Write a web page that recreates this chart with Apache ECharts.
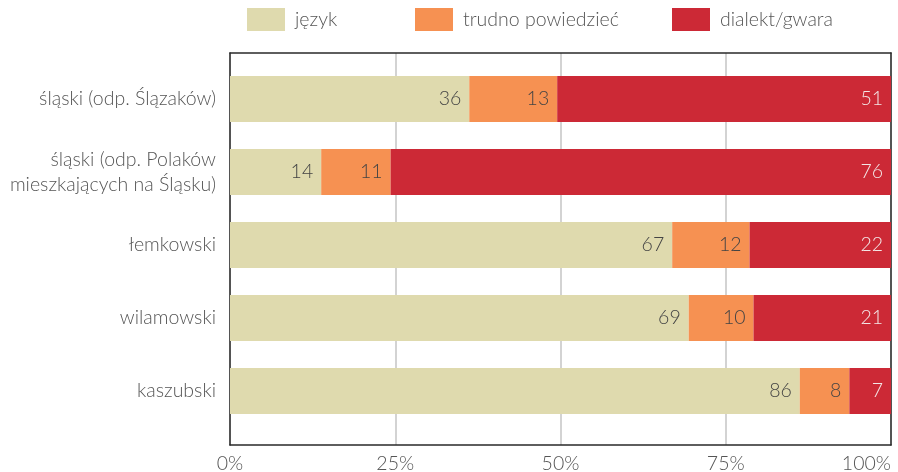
<!DOCTYPE html>
<html><head><meta charset="utf-8">
<script src="https://cdn.jsdelivr.net/npm/echarts@6/dist/echarts.min.js"></script>
<style>html,body{margin:0;padding:0;background:#fff}#c{width:898px;height:472px}</style>
</head><body><div id="c"></div>
<script>
const categories = ["śląski (odp. Ślązaków)", "śląski (odp. Polaków\nmieszkających na Śląsku)", "łemkowski", "wilamowski", "kaszubski"];
const seriesNames = ["język", "trudno powiedzieć", "dialekt/gwara"];
const jezyk = [36.2, 13.8, 66.9, 69.4, 86.2];
const trudno = [13.3, 10.5, 11.7, 9.8, 7.5];
const dialekt = [50.5, 75.7, 21.5, 20.8, 6.5];
const xTicks = [0, 25, 50, 75, 100];
const colors = ["#dfdaae", "#f69152", "#cc2936"];
const labelColors = ["#444", "#444", "#f3e6e6"];

const FONT = "Lato";
const FW = 300;
const FS = 19.5;
const valueSets = [jezyk, trudno, dialekt];
const series = seriesNames.map((n, i) => ({
  name: n, type: "bar", stack: "s", xAxisIndex: 2, yAxisIndex: 2,
  barWidth: 46, clip: true, z: 3,
  itemStyle: { color: colors[i] },
  label: { show: true, position: "insideRight", distance: 8, color: labelColors[i],
    fontFamily: FONT, fontWeight: FW, fontSize: FS, formatter: p => Math.round(p.value) },
  data: valueSets[i]
}));
series.push({ type: "bar", xAxisIndex: 0, yAxisIndex: 0, data: [], silent: true });

const frameLine = { show: true, onZero: false, lineStyle: { color: "#2a2a2a", width: 1.5 } };
const legendLefts = [247, 415, 672];
const chart = echarts.init(document.getElementById("c"), null, { renderer: "canvas" });
chart.setOption({
  animation: false,
  legend: seriesNames.map((n, i) => ({
    data: [n], left: legendLefts[i], top: 8, itemWidth: 38, itemHeight: 23,
    icon: "rect", selectedMode: false, padding: 0, itemGap: 0,
    textStyle: { fontFamily: FONT, fontWeight: FW, fontSize: FS, color: "#555", padding: [0, 0, 0, 5] }
  })),
  grid: [
    { left: 230, right: 7, top: 53, bottom: 27, containLabel: false, outerBoundsMode: "none" },
    { left: 230, right: 7, top: 62.5, bottom: 44.5, containLabel: false, outerBoundsMode: "none" }
  ],
  xAxis: [
    { type: "value", gridIndex: 0, position: "bottom", min: 0, max: 100, interval: 25,
      axisLine: frameLine, axisTick: { show: false },
      splitLine: { show: true, lineStyle: { color: "#c4c4c4", width: 1.5 } },
      axisLabel: { margin: 9, fontFamily: FONT, fontWeight: FW, fontSize: FS, color: "#555",
        alignMaxLabel: "right", formatter: v => xTicks.includes(v) ? v + "%" : "" } },
    { type: "value", gridIndex: 0, position: "top", min: 0, max: 100,
      axisLine: frameLine, axisTick: { show: false }, axisLabel: { show: false }, splitLine: { show: false } },
    { type: "value", gridIndex: 1, min: 0, max: 100, show: false }
  ],
  yAxis: [
    { type: "value", gridIndex: 0, position: "left", min: 0, max: 1,
      axisLine: frameLine, axisTick: { show: false }, axisLabel: { show: false }, splitLine: { show: false } },
    { type: "value", gridIndex: 0, position: "right", min: 0, max: 1,
      axisLine: frameLine, axisTick: { show: false }, axisLabel: { show: false }, splitLine: { show: false } },
    { type: "category", gridIndex: 1, data: categories, inverse: true,
      axisLine: { show: false }, axisTick: { show: false },
      axisLabel: { margin: 14, fontFamily: FONT, fontWeight: FW, fontSize: FS, color: "#555", lineHeight: 25, align: "right" } }
  ],
  series: series
});
</script></body></html>
